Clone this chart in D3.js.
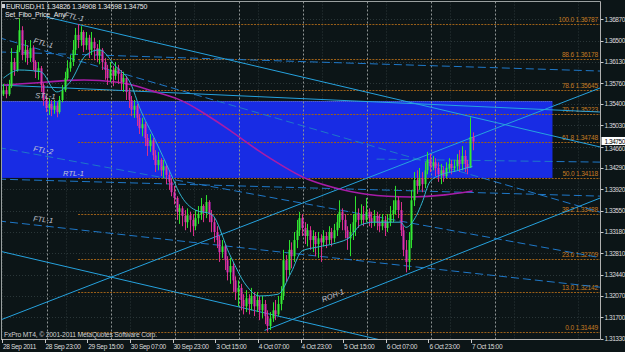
<!DOCTYPE html>
<html><head><meta charset="utf-8">
<script src="https://cdn.jsdelivr.net/npm/d3@7"></script>
<style>html,body{margin:0;padding:0;background:#0c1517;overflow:hidden}svg{display:block}</style>
</head><body><svg id="c" width="625" height="352"></svg>
<script>
// ---------------- DATA ----------------
const symbolTitle = "EURUSD,H1  1.34826 1.34908 1.34598 1.34750";
const indicatorTitle = "Set_Fibo_Price_Any";
const copyrightText = "FxPro MT4, \u00a9 2001-2011 MetaQuotes Software Corp.";
const firstOpen = 1.3557;
const closes = [
1.3564,1.3557,1.3571,1.3613,1.3599,1.3634,1.3668,1.3625,1.3634,1.3620,
1.3637,1.3613,1.3596,1.3602,1.3573,1.3547,1.3533,1.3540,1.3530,1.3537,
1.3526,1.3547,1.3564,1.3585,1.3602,1.3613,1.3634,1.3660,1.3651,1.3665,
1.3642,1.3655,1.3634,1.3648,1.3637,1.3625,1.3634,1.3613,1.3599,1.3585,
1.3599,1.3589,1.3602,1.3592,1.3578,1.3585,1.3561,1.3547,1.3530,1.3537,
1.3516,1.3498,1.3505,1.3481,1.3467,1.3477,1.3451,1.3434,1.3443,1.3425,
1.3432,1.3417,1.3405,1.3387,1.3377,1.3353,1.3359,1.3346,1.3335,1.3347,
1.3339,1.3328,1.3342,1.3349,1.3363,1.3353,1.3370,1.3349,1.3335,1.3318,
1.3304,1.3283,1.3293,1.3269,1.3248,1.3259,1.3234,1.3214,1.3221,1.3200,
1.3189,1.3203,1.3193,1.3207,1.3189,1.3200,1.3182,1.3193,1.3172,1.3155,
1.3168,1.3182,1.3175,1.3193,1.3207,1.3269,1.3252,1.3287,1.3276,1.3304,
1.3321,1.3342,1.3325,1.3311,1.3321,1.3304,1.3311,1.3297,1.3307,1.3300,
1.3311,1.3304,1.3318,1.3307,1.3321,1.3335,1.3353,1.3339,1.3321,1.3307,
1.3318,1.3335,1.3349,1.3339,1.3349,1.3339,1.3353,1.3342,1.3335,1.3346,
1.3335,1.3328,1.3339,1.3325,1.3335,1.3349,1.3356,1.3373,1.3356,1.3321,
1.3287,1.3266,1.3304,1.3373,1.3408,1.3398,1.3411,1.3401,1.3425,1.3443,
1.3432,1.3439,1.3429,1.3418,1.3425,1.3415,1.3429,1.3436,1.3429,1.3432,
1.3443,1.3436,1.3450,1.3436,1.3429,1.34826,1.34750];
const highs = [
1.3575,1.3571,1.3582,1.3637,1.3620,1.3642,1.3689,1.3675,1.3651,1.3642,
1.3651,1.3642,1.3616,1.3613,1.3606,1.3576,1.3554,1.3550,1.3547,1.3547,
1.3543,1.3554,1.3573,1.3596,1.3616,1.3625,1.3651,1.3672,1.3679,1.3675,
1.3668,1.3665,1.3660,1.3665,1.3655,1.3644,1.3651,1.3637,1.3620,1.3608,
1.3613,1.3606,1.3613,1.3608,1.3599,1.3596,1.3589,1.3568,1.3554,1.3547,
1.3540,1.3523,1.3516,1.3509,1.3488,1.3488,1.3481,1.3460,1.3457,1.3446,
1.3443,1.3436,1.3425,1.3411,1.3398,1.3380,1.3366,1.3363,1.3356,1.3359,
1.3353,1.3349,1.3356,1.3363,1.3377,1.3366,1.3382,1.3373,1.3356,1.3342,
1.3328,1.3311,1.3304,1.3297,1.3276,1.3273,1.3266,1.3241,1.3234,1.3228,
1.3210,1.3217,1.3210,1.3221,1.3214,1.3214,1.3207,1.3207,1.3200,1.3182,
1.3179,1.3196,1.3200,1.3207,1.3224,1.3287,1.3278,1.3304,1.3300,1.3318,
1.3339,1.3353,1.3349,1.3335,1.3332,1.3328,1.3321,1.3318,1.3318,1.3314,
1.3321,1.3318,1.3328,1.3325,1.3332,1.3349,1.3373,1.3359,1.3349,1.3328,
1.3332,1.3349,1.3380,1.3359,1.3366,1.3363,1.3377,1.3359,1.3353,1.3356,
1.3353,1.3349,1.3349,1.3346,1.3349,1.3363,1.3373,1.3398,1.3380,1.3370,
1.3328,1.3304,1.3318,1.3391,1.3422,1.3425,1.3429,1.3422,1.3439,1.3457,
1.3453,1.3450,1.3446,1.3439,1.3436,1.3432,1.3439,1.3446,1.3443,1.3443,
1.3453,1.3460,1.3467,1.3460,1.3443,1.3517,1.34908];
const lows = [
1.3554,1.3550,1.3554,1.3568,1.3589,1.3596,1.3630,1.3616,1.3613,1.3608,
1.3613,1.3599,1.3585,1.3582,1.3561,1.3537,1.3526,1.3521,1.3519,1.3523,
1.3517,1.3523,1.3543,1.3561,1.3582,1.3596,1.3606,1.3625,1.3637,1.3641,
1.3630,1.3634,1.3620,1.3625,1.3616,1.3613,1.3609,1.3599,1.3582,1.3573,
1.3578,1.3571,1.3582,1.3575,1.3564,1.3561,1.3547,1.3533,1.3519,1.3516,
1.3502,1.3488,1.3484,1.3467,1.3450,1.3457,1.3443,1.3422,1.3425,1.3415,
1.3411,1.3401,1.3391,1.3380,1.3366,1.3339,1.3332,1.3328,1.3321,1.3325,
1.3318,1.3311,1.3321,1.3332,1.3339,1.3335,1.3342,1.3335,1.3318,1.3300,
1.3290,1.3266,1.3273,1.3252,1.3234,1.3228,1.3214,1.3200,1.3189,1.3182,
1.3175,1.3179,1.3175,1.3182,1.3172,1.3179,1.3165,1.3168,1.3158,1.3145,
1.3148,1.3162,1.3165,1.3172,1.3182,1.3200,1.3231,1.3243,1.3255,1.3266,
1.3290,1.3311,1.3311,1.3297,1.3293,1.3287,1.3283,1.3276,1.3273,1.3266,
1.3293,1.3290,1.3297,1.3293,1.3300,1.3311,1.3325,1.3321,1.3307,1.3287,
1.3276,1.3304,1.3311,1.3325,1.3332,1.3328,1.3335,1.3328,1.3325,1.3328,
1.3321,1.3318,1.3321,1.3311,1.3318,1.3328,1.3335,1.3349,1.3342,1.3311,
1.3276,1.3248,1.3252,1.3290,1.3363,1.3384,1.3391,1.3387,1.3394,1.3418,
1.3422,1.3425,1.3415,1.3405,1.3401,1.3405,1.3411,1.3422,1.3418,1.3422,
1.3425,1.3422,1.3425,1.3422,1.3418,1.3429,1.34598];

const fastMaBars = [0,6,14,20,25,31,36,42,48,51,57,63,66,72,78,85,91,96,103,108,112,118,125,130,134,139,149,151,155,157,160,164,170,176];
const fastMaValues = [1.3585,1.3599,1.3596,1.3561,1.3578,1.3625,1.3634,1.3606,1.3573,1.3535,1.3477,1.3417,1.3386,1.3356,1.3349,1.3278,1.3226,1.3207,1.3210,1.3248,1.3285,1.3292,1.3299,1.3309,1.3330,1.3335,1.3335,1.3326,1.3347,1.3368,1.3405,1.3417,1.3424,1.3432];
const slowMaBars = [0,11,25,36,48,55,66,74,85,96,106,114,123,135,154,166,176];
const slowMaValues = [1.3573,1.3576,1.3582,1.3582,1.3575,1.3563,1.3550,1.3528,1.3495,1.3457,1.3429,1.3408,1.3396,1.3382,1.3377,1.3382,1.3389];

const priceTicks = [1.36870,1.36500,1.36130,1.35760,1.35400,1.35030,1.34660,1.34290,1.33920,1.33550,1.33180,1.32810,1.32440,1.32070,1.31700,1.31330];
const currentPrice = 1.34750;
const timeTickBars = [0,16,32,48,64,80,96,112,128,144,160,176];
const timeTickLabels = ["28 Sep 2011","28 Sep 23:00","29 Sep 15:00","30 Sep 07:00","30 Sep 23:00","3 Oct 15:00","4 Oct 07:00","4 Oct 23:00","5 Oct 15:00","6 Oct 07:00","6 Oct 23:00","7 Oct 15:00"];
const daySeparatorBars = [17,41,65,89,113,137,161,185];
const gridBars = [0,24,48,72,96,120,144,168,192,216];

const fibAnchorBar = 28;
const fibLevels = ["100.0","88.6","78.6","70.7","61.8","50.0","38.2","23.6","13.0","0.0"];
const fibPrices = [1.36787,1.36178,1.35645,1.35223,1.34748,1.34118,1.33488,1.32709,1.32142,1.31449];

const zoneBars = [-10, 206];
const zonePrices = [1.35452, 1.34118];

// trend lines: [startBar, startPrice, endBar, endPrice]
const solidTrendLines = [
  [16, 1.36912, 224, 1.34653],
  [-2, 1.35731, 224, 1.35261],
  [-2, 1.31637, 224, 1.35681],
  [98, 1.31472, 224, 1.33771],
  [-2, 1.32854, 224, 1.30417]
];
const dashedTrendLines = [
  [-2, 1.36556, 224, 1.33521],
  [-2, 1.36304, 224, 1.35972],
  [-2, 1.33372, 224, 1.32221],
  [-2, 1.34646, 224, 1.32733],
  [-2, 1.34097, 224, 1.33802],
  [140, 1.34444, 224, 1.34392]
];
const trendLabelTexts = ["FTL-1","FTL-1","STL-1","FTL-2","RTL-1","FTL-1","ROH-1"];
const trendLabelBars = [22.7, 11.1, 11.9, 11.1, 22.4, 11.1, 119.9];
const trendLabelPrices = [1.36910, 1.36459, 1.35504, 1.34584, 1.34150, 1.33368, 1.31962];
const trendLabelAngles = [13, 15, 3, 10, 0, 6, -22];

// ---------------- DRAW ----------------
const W = 625, H = 352;
const PL = 1, PR = 600.5, PT = 1.5, PB = 339;
const x = d3.scaleLinear().domain([0, 176]).range([3.4, 3.4 + 176 * 2.6655]);
const y = d3.scaleLinear().domain([1.31330, 1.36870]).range([338.6, 19.3]);
const FONT = "'Liberation Sans', Arial, sans-serif";

const svg = d3.select("#c");
svg.append("rect").attr("width", W).attr("height", H).attr("fill", "#0c1517");
svg.append("defs").append("clipPath").attr("id", "pc")
  .append("rect").attr("x", PL).attr("y", PT).attr("width", PR - PL).attr("height", PB - PT);
const g = svg.append("g").attr("clip-path", "url(#pc)");

// dim grid
g.selectAll(".hg").data(priceTicks).join("line")
  .attr("x1", PL).attr("x2", PR).attr("y1", d => Math.round(y(d)) + 0.5).attr("y2", d => Math.round(y(d)) + 0.5)
  .attr("stroke", "#2a3638").attr("stroke-dasharray", "1,2");
g.selectAll(".vg").data(gridBars).join("line")
  .attr("x1", d => Math.round(x(d) - 1.4) + 0.5).attr("x2", d => Math.round(x(d) - 1.4) + 0.5)
  .attr("y1", PT).attr("y2", PB)
  .attr("stroke", "#2a3638").attr("stroke-dasharray", "1,2");

// blue zone
g.append("rect")
  .attr("x", x(zoneBars[0])).attr("y", y(zonePrices[0]))
  .attr("width", x(zoneBars[1]) - x(zoneBars[0])).attr("height", y(zonePrices[1]) - y(zonePrices[0]))
  .attr("fill", "#182ce4");
g.append("line").attr("x1", x(zoneBars[0])).attr("x2", x(zoneBars[1]))
  .attr("y1", Math.round(y(zonePrices[0])) + 0.5).attr("y2", Math.round(y(zonePrices[0])) + 0.5)
  .attr("stroke", "#6a74b8").attr("stroke-dasharray", "1,1");

// day separators
g.selectAll(".ds").data(daySeparatorBars).join("line")
  .attr("x1", d => Math.round(x(d) - 1.3) + 0.5).attr("x2", d => Math.round(x(d) - 1.3) + 0.5)
  .attr("y1", PT).attr("y2", PB)
  .attr("stroke", "#8e9494").attr("stroke-dasharray", "2,2");

// fibonacci levels
g.selectAll(".fl").data(fibPrices).join("line")
  .attr("x1", x(fibAnchorBar)).attr("x2", PR)
  .attr("y1", d => Math.round(y(d)) + 0.5).attr("y2", d => Math.round(y(d)) + 0.5)
  .attr("stroke", "#9c6018").attr("stroke-width", 1).attr("stroke-dasharray", "2,1.2");
g.selectAll(".ft").data(fibPrices).join("text")
  .attr("x", 598).attr("y", d => y(d) - 2)
  .attr("text-anchor", "end").attr("font-family", FONT).attr("font-size", 6.6)
  .attr("letter-spacing", -0.2)
  .attr("fill", "#c47a22")
  .text((d, i) => fibLevels[i] + "  " + d.toFixed(5));

// trend lines
const tl = (arr, dashed, color) => g.selectAll(null).data(arr).join("line")
  .attr("x1", d => x(d[0])).attr("y1", d => y(d[1]))
  .attr("x2", d => x(d[2])).attr("y2", d => y(d[3]))
  .attr("stroke", color).attr("stroke-width", 1)
  .attr("stroke-dasharray", dashed ? "8,4" : null);
tl(dashedTrendLines, true, "#1f78c8");
tl(solidTrendLines, false, "#26a2de");

// slow MA
const slowLine = d3.line().x(d => x(d[0])).y(d => y(d[1])).curve(d3.curveBasis);
g.append("path").datum(slowMaBars.map((b, i) => [b, slowMaValues[i]]))
  .attr("d", slowLine).attr("fill", "none").attr("stroke", "#a81ca8").attr("stroke-width", 1.6);

// candles
const opens = closes.map((c, i) => i === 0 ? firstOpen : closes[i - 1]);
const bars = closes.map((c, i) => ({i, o: opens[i], h: highs[i], l: lows[i], c}));
const cg = g.append("g");
cg.selectAll(".wk").data(bars).join("line")
  .attr("x1", d => Math.round(x(d.i)) + 0.5).attr("x2", d => Math.round(x(d.i)) + 0.5)
  .attr("y1", d => y(d.h)).attr("y2", d => y(d.l))
  .attr("stroke", d => d.c >= d.o ? "#2ee02e" : "#d8308a").attr("stroke-width", 1);
cg.selectAll(".bd").data(bars).join("rect")
  .attr("x", d => Math.round(x(d.i)) - 0.5).attr("width", 2)
  .attr("y", d => y(Math.max(d.o, d.c)))
  .attr("height", d => Math.max(1, Math.abs(y(d.o) - y(d.c))))
  .attr("fill", d => d.c >= d.o ? "#34ea34" : "#d824d0");
cg.selectAll(".bc").data(bars.filter(d => d.c < d.o)).join("line")
  .attr("x1", d => Math.round(x(d.i)) + 0.5).attr("x2", d => Math.round(x(d.i)) + 0.5)
  .attr("y1", d => y(d.o)).attr("y2", d => y(d.c))
  .attr("stroke", "#f07028").attr("stroke-width", 0.6).attr("stroke-dasharray", "1,1");

// fast MA
const fastLine = d3.line().x(d => x(d[0])).y(d => y(d[1])).curve(d3.curveMonotoneX);
g.append("path").datum(fastMaBars.map((b, i) => [b, fastMaValues[i]]))
  .attr("d", fastLine).attr("fill", "none").attr("stroke", "#32b4d0").attr("stroke-width", 1);

// trend labels
g.selectAll(".tlab").data(trendLabelTexts).join("text")
  .attr("transform", (d, i) => `translate(${x(trendLabelBars[i])},${y(trendLabelPrices[i])}) rotate(${trendLabelAngles[i]})`)
  .attr("font-family", FONT).attr("font-size", 7.5).attr("font-style", "italic")
  .attr("fill", "#c4c8d4").text(d => d);

// frame
svg.append("line").attr("x1", PL).attr("x2", PR).attr("y1", 1.5).attr("y2", 1.5).attr("stroke", "#9aa0a0");
svg.append("line").attr("x1", 1.5).attr("x2", 1.5).attr("y1", PT).attr("y2", PB).attr("stroke", "#9aa0a0");
svg.append("line").attr("x1", PR).attr("x2", PR).attr("y1", PT).attr("y2", PB).attr("stroke", "#b0b0b0");
svg.append("line").attr("x1", PL).attr("x2", PR).attr("y1", PB + 0.5).attr("y2", PB + 0.5).attr("stroke", "#b0b0b0");

// price axis
const ya = svg.append("g");
ya.selectAll(".pt").data(priceTicks).join("line")
  .attr("x1", PR).attr("x2", PR + 3).attr("y1", d => Math.round(y(d)) + 0.5).attr("y2", d => Math.round(y(d)) + 0.5)
  .attr("stroke", "#c8c8c8");
ya.selectAll(".pl").data(priceTicks.filter(d => Math.abs(y(d) - y(currentPrice)) > 6)).join("text")
  .attr("x", PR + 4).attr("y", d => y(d) + 2.3)
  .attr("font-family", FONT).attr("font-size", 6.5).attr("letter-spacing", -0.45).attr("fill", "#dcdcdc")
  .text(d => d.toFixed(5));
ya.selectAll(".plc").data(priceTicks.filter(d => Math.abs(y(d) - y(currentPrice)) <= 6)).join("text")
  .attr("x", PR + 4).attr("y", d => y(d) + 4.5)
  .attr("font-family", FONT).attr("font-size", 6.5).attr("letter-spacing", -0.45).attr("fill", "#dcdcdc")
  .text(d => d.toFixed(5));
ya.append("rect").attr("x", PR + 1).attr("y", y(currentPrice) - 4.5).attr("width", 24).attr("height", 8).attr("fill", "#ffffff");
ya.append("text").attr("x", PR + 4).attr("y", y(currentPrice) + 2.3)
  .attr("font-family", FONT).attr("font-size", 6.5).attr("letter-spacing", -0.45).attr("fill", "#000").text(currentPrice.toFixed(5));

// time axis
const xa = svg.append("g");
xa.selectAll(".tt").data(timeTickBars).join("line")
  .attr("x1", d => Math.round(x(d) - 1.4) + 0.5).attr("x2", d => Math.round(x(d) - 1.4) + 0.5)
  .attr("y1", PB).attr("y2", PB + 4).attr("stroke", "#c8c8c8");
xa.selectAll(".tx").data(timeTickBars).join("text")
  .attr("x", d => x(d) - 0.5).attr("y", 349)
  .attr("font-family", FONT).attr("font-size", 6.6).attr("letter-spacing", -0.35).attr("fill", "#dcdcdc")
  .text((d, i) => timeTickLabels[i]);

// header texts
svg.append("rect").attr("x", 2).attr("y", 4).attr("width", 3).attr("height", 4).attr("fill", "#d0d0d0");
svg.append("text").attr("x", 6).attr("y", 9).attr("font-family", FONT).attr("font-size", 7).attr("letter-spacing", -0.2).attr("fill", "#e8e8e8").text(symbolTitle);
svg.append("text").attr("x", 5).attr("y", 17).attr("font-family", FONT).attr("font-size", 7).attr("letter-spacing", -0.2).attr("fill", "#e8e8e8").text(indicatorTitle);
svg.append("text").attr("x", 4).attr("y", 337).attr("font-family", FONT).attr("font-size", 6.8).attr("letter-spacing", -0.2).attr("fill", "#d0d0d0").text(copyrightText);
</script></body></html>
